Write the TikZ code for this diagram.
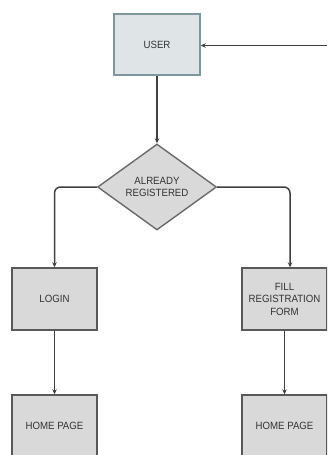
\documentclass[tikz,border=0pt]{standalone}
\usepackage{fontspec}
\setmainfont[FakeStretch=0.92]{Liberation Sans}
\usetikzlibrary{shapes.geometric,arrows.meta,calc}
\definecolor{userfill}{HTML}{DFE4E7}
\definecolor{userdraw}{HTML}{7E979C}
\definecolor{boxfill}{HTML}{D9D9D9}
\definecolor{boxdraw}{HTML}{595959}
\definecolor{linecol}{HTML}{404040}
\definecolor{txtcol}{HTML}{333333}
\tikzset{
  base/.style={font=\fontsize{10.5}{12.5}\selectfont, text=txtcol, align=center, inner sep=0pt, line width=1.4pt},
  userbox/.style={base, rectangle, fill=userfill, draw=userdraw, minimum width=86pt, minimum height=61pt},
  procbox/.style={base, rectangle, fill=boxfill, draw=boxdraw, minimum width=85pt, minimum height=62pt},
  decision/.style={base, diamond, fill=boxfill, draw=boxdraw!90, minimum width=119pt, minimum height=86pt},
  conn/.style={draw=linecol, line width=1.5pt, -{Stealth[length=5pt,width=4.5pt]}},
}
\begin{document}
\begin{tikzpicture}[x=1pt,y=-1pt]
\useasboundingbox (0,0) rectangle (327,455);
\clip (0,0) rectangle (327,455);
\node[userbox] (user) at (157,44.5) {USER};
\node[decision] (dec) at (157,187) {ALREADY\\REGISTERED};
\node[procbox] (login) at (54.5,299) {LOGIN};
\node[procbox] (fill) at (284.5,299) {FILL\\REGISTRATION\\FORM};
\node[procbox] (homel) at (54.5,426) {HOME PAGE};
\node[procbox] (homer) at (284.5,426) {HOME PAGE};
\coordinate (back) at (330,45.5);
\draw[conn] (back) -- (user.east |- back);
\draw[conn] (user.south) -- (dec.north);
\draw[conn, rounded corners=6pt] (dec.west) -| (login.north);
\draw[conn, rounded corners=6pt] (dec.east) -| ([xshift=5.5pt]fill.north);
\draw[conn] (login.south) -- (homel.north);
\draw[conn] (fill.south) -- (homer.north);
\end{tikzpicture}
\end{document}
